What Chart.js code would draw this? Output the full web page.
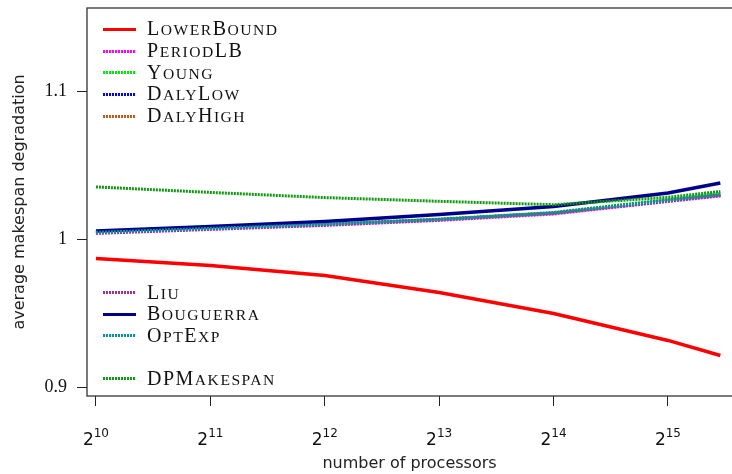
<!DOCTYPE html>
<html>
<head>
<meta charset="utf-8">
<script src="https://cdn.jsdelivr.net/npm/chart.js@4.4.1/dist/chart.umd.min.js"></script>
<style>
  body { margin: 0; background: #fff; }
  #wrap { position: relative; width: 732px; height: 474px; }
  #legend { position: absolute; left: 0; top: 0; width: 0; height: 0; }
  .key { position: absolute; left: 103px; width: 33px; height: 3px; }
  .name { position: absolute; left: 147px; white-space: nowrap; font-family: "Liberation Serif", serif;
          font-size: 20px; letter-spacing: 1.5px; color: #111; line-height: 22px; }
  .name .sc { font-size: 15.6px; }
</style>
</head>
<body>
<div id="wrap">
  <canvas id="chart" width="732" height="474"></canvas>
  <div id="legend"></div>
</div>
<script>
// processor counts (x) and average makespan degradation per heuristic
const processors = [1024, 2048, 4096, 8192, 16384, 32768, 45000];
const lowerBound = [0.9872, 0.9824, 0.9757, 0.9642, 0.9500, 0.9318, 0.9216];
const periodLB   = [1.0041, 1.0068, 1.0095, 1.0129, 1.0172, 1.0257, 1.0294];
const young      = [1.0049, 1.0076, 1.0103, 1.0138, 1.0183, 1.0270, 1.0312];
const dalyLow    = [1.0047, 1.0074, 1.0101, 1.0135, 1.0179, 1.0264, 1.0301];
const dalyHigh   = [1.0046, 1.0073, 1.0100, 1.0134, 1.0178, 1.0262, 1.0299];
const liu        = [1.0045, 1.0072, 1.0099, 1.0133, 1.0177, 1.0261, 1.0298];
const bouguerra  = [1.0057, 1.0088, 1.0122, 1.0169, 1.0223, 1.0314, 1.0382];
const optExp     = [1.0048, 1.0075, 1.0102, 1.0136, 1.0180, 1.0265, 1.0303];
const dpMakespan = [1.0355, 1.0318, 1.0283, 1.0258, 1.0235, 1.0285, 1.0324];

const xPowers = [10, 11, 12, 13, 14, 15];
const yTicks = [0.9, 1, 1.1];

const dotted = [2, 1];
const series = [
  { label: 'LowerBound', data: lowerBound, color: '#ff0000', dash: [], width: 3.5 },
  { label: 'PeriodLB',   data: periodLB,   color: '#ff00ff', dash: dotted, width: 3 },
  { label: 'Young',      data: young,      color: '#00ee00', dash: dotted, width: 3 },
  { label: 'DalyLow',    data: dalyLow,    color: '#0000ff', dash: dotted, width: 3 },
  { label: 'DalyHigh',   data: dalyHigh,   color: '#b85c20', dash: dotted, width: 3 },
  { label: 'Liu',        data: liu,        color: '#993399', dash: dotted, width: 3 },
  { label: 'Bouguerra',  data: bouguerra,  color: '#00008b', dash: [], width: 3.5 },
  { label: 'OptExp',     data: optExp,     color: '#009999', dash: dotted, width: 3 },
  { label: 'DPMakespan', data: dpMakespan, color: '#119911', dash: dotted, width: 3 }
];

// box around the plot + 2^n tick labels
const frame = {
  id: 'frame',
  afterDraw(chart) {
    const { ctx, chartArea: a } = chart;
    const x = chart.scales.x;
    ctx.save();
    ctx.strokeStyle = '#333';
    ctx.lineWidth = 1.3;
    ctx.strokeRect(a.left, a.top, a.right - a.left + 2, a.bottom - a.top);
    ctx.fillStyle = '#111';
    ctx.textBaseline = 'alphabetic';
    x.ticks.forEach(t => {
      const px = x.getPixelForValue(t.value);
      const exp = String(Math.round(Math.log2(t.value)));
      ctx.font = '17px "DejaVu Sans"';
      const wb = ctx.measureText('2').width;
      ctx.font = '12px "DejaVu Sans"';
      const we = ctx.measureText(exp).width;
      const x0 = px - (wb + we) / 2;
      ctx.font = '17px "DejaVu Sans"';
      ctx.fillText('2', x0, 445);
      ctx.font = '12px "DejaVu Sans"';
      ctx.fillText(exp, x0 + wb, 437);
    });
    ctx.restore();
  }
};

const chart = new Chart(document.getElementById('chart'), {
  type: 'line',
  data: {
    datasets: series.map((s, i) => ({
      label: s.label,
      data: processors.map((p, j) => ({ x: p, y: s.data[j] })),
      borderColor: s.color,
      borderWidth: s.width,
      borderDash: s.dash,
      borderCapStyle: 'butt',
      pointRadius: 0,
      tension: 0,
      fill: false,
      order: -i
    }))
  },
  options: {
    responsive: false,
    animation: false,
    devicePixelRatio: 1,
    layout: { padding: { top: 8, right: 0, left: 0, bottom: 0 } },
    plugins: { legend: { display: false }, tooltip: { enabled: false } },
    scales: {
      x: {
        type: 'logarithmic',
        min: 969.9,
        max: 48300,
        bounds: 'data',
        afterBuildTicks: s => { s.ticks = xPowers.map(n => ({ value: 2 ** n })); },
        afterFit: s => { s.height = 78; s.paddingLeft = 0; s.paddingRight = 0; },
        ticks: { callback: () => '', autoSkip: false, padding: 0 },
        grid: { drawOnChartArea: false, tickLength: 10, color: '#222', lineWidth: 1 },
        border: { display: false },
        title: {
          display: true,
          text: 'number of processors',
          color: '#222',
          font: { family: 'DejaVu Sans', size: 16 },
          padding: { top: 0, bottom: 1 }
        }
      },
      y: {
        min: 0.89426,
        max: 1.1564,
        afterBuildTicks: s => { s.ticks = yTicks.map(v => ({ value: v })); },
        afterFit: s => { s.width = 87; s.paddingTop = 0; s.paddingBottom = 0; },
        ticks: {
          padding: 10,
          color: '#111',
          font: { family: 'Liberation Serif', size: 18 },
          callback: v => (v === 1 ? '1' : v.toFixed(1))
        },
        grid: { drawOnChartArea: false, tickLength: 10, color: '#222', lineWidth: 1 },
        border: { display: false },
        title: {
          display: true,
          text: 'average makespan degradation',
          color: '#222',
          font: { family: 'DejaVu Sans', size: 16 },
          padding: { top: 10, bottom: 0 }
        }
      }
    }
  },
  plugins: [frame]
});

// legend in two groups inside the plot, small caps names
const legendY = [29, 51, 72.5, 94, 116, 292.5, 314, 335.5, 378.5];
const legend = document.getElementById('legend');
chart.data.datasets.forEach((ds, i) => {
  const key = document.createElement('div');
  key.className = 'key';
  key.style.top = (legendY[i] - 1.5) + 'px';
  if (ds.borderDash.length) {
    key.style.background = `repeating-linear-gradient(90deg, ${ds.borderColor} 0 2px, transparent 2px 3px)`;
  } else {
    key.style.background = ds.borderColor;
    key.style.height = '3.5px';
  }
  const name = document.createElement('div');
  name.className = 'name';
  name.style.top = (legendY[i] - 12) + 'px';
  name.innerHTML = ds.label.replace(/[a-z]+/g, m => `<span class="sc">${m.toUpperCase()}</span>`);
  legend.append(key, name);
});
</script>
</body>
</html>
